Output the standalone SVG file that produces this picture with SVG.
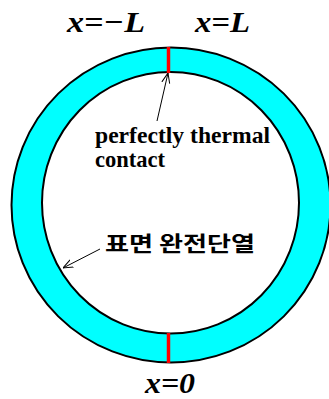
<svg xmlns="http://www.w3.org/2000/svg" width="329" height="399" viewBox="0 0 329 399">
<style>
.lbl{font-family:"Liberation Serif","Times New Roman",serif;font-weight:bold;fill:#000}
.math{font-style:italic;font-size:30px}
.note{font-size:24px}
.kr{font-family:"Noto Sans CJK KR",sans-serif;font-weight:bold;font-size:21px;fill:#000}
.ring{stroke:#000;stroke-width:2}
.joint{stroke:#f00;stroke-width:3.5}
.conn{stroke:#000;stroke-width:1;fill:none}
</style>
<defs>
<marker id="open" viewBox="0 0 10 10" refX="10" refY="5" markerWidth="10" markerHeight="10" markerUnits="userSpaceOnUse" orient="auto">
<path d="M0,1 L10,5 L0,9" fill="none" stroke="#000" stroke-width="1"/>
</marker>
</defs>
<g id="ring">
<ellipse class="ring" cx="171" cy="205" rx="159.5" ry="157.5" fill="#00ffff"/>
<ellipse class="ring" cx="170.5" cy="202.75" rx="128.5" ry="130.75" fill="#fff"/>
</g>
<g id="joint-top"><line class="joint" x1="168.5" y1="47" x2="168.5" y2="73"/></g>
<g id="joint-bottom"><line class="joint" x1="168.5" y1="333" x2="168.5" y2="363"/></g>
<g id="label-xmL"><text class="lbl math" x="67" y="32" textLength="78" lengthAdjust="spacingAndGlyphs">x=−L</text></g>
<g id="label-xL"><text class="lbl math" x="195" y="32" textLength="55" lengthAdjust="spacingAndGlyphs">x=L</text></g>
<g id="label-x0"><text class="lbl math" x="145" y="393" textLength="50" lengthAdjust="spacingAndGlyphs">x=0</text></g>
<g id="label-contact">
<text class="lbl note" x="95" y="143" textLength="175" lengthAdjust="spacingAndGlyphs">perfectly thermal</text>
<text class="lbl note" x="95" y="167" textLength="70" lengthAdjust="spacingAndGlyphs">contact</text>
</g>
<g id="label-insulated"><text class="kr" x="105" y="251" textLength="150" lengthAdjust="spacingAndGlyphs">표면 완전단열</text></g>
<g id="connectors">
<line class="conn" x1="157" y1="121" x2="168" y2="73" marker-end="url(#open)"/>
<line class="conn" x1="100" y1="249" x2="63" y2="268" marker-end="url(#open)"/>
</g>
</svg>
